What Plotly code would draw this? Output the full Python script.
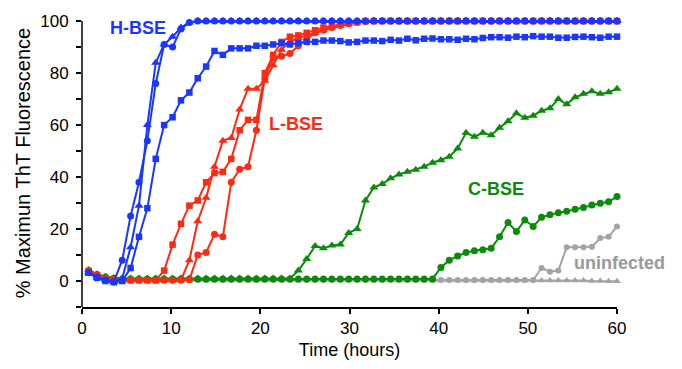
import plotly.graph_objects as go

# ---- data ----
times = [0.75, 1.69, 2.63, 3.57, 4.51, 5.45, 6.39, 7.33, 8.27, 9.21,
         10.16, 11.10, 12.04, 12.98, 13.92, 14.86, 15.80, 16.74, 17.68, 18.62,
         19.56, 20.50, 21.44, 22.38, 23.32, 24.26, 25.20, 26.14, 27.08, 28.02,
         28.97, 29.91, 30.85, 31.79, 32.73, 33.67, 34.61, 35.55, 36.49, 37.43,
         38.37, 39.31, 40.25, 41.19, 42.13, 43.07, 44.01, 44.95, 45.89, 46.83,
         47.78, 48.72, 49.66, 50.60, 51.54, 52.48, 53.42, 54.36, 55.30, 56.24,
         57.18, 58.12, 59.06, 60.00]

hbse_circle = [3.2, 1.5, 0.4, -0.3, 8, 25, 38, 54, 76, 91,
               90, 97, 99.5, 100, 100, 100, 100, 100, 100, 100,
               100, 100, 100, 100, 100, 100, 100, 100, 100, 100,
               100, 100, 100, 100, 100, 100, 100, 100, 100, 100,
               100, 100, 100, 100, 100, 100, 100, 100, 100, 100,
               100, 100, 100, 100, 100, 100, 100, 100, 100, 100,
               100, 100, 100, 100]
hbse_triangle = [3.0, 1.3, 0.3, -0.4, 1, 13, 29, 60, 84, 91,
                 94, 97.5, 99.5, 100, 100, 100, 100, 100, 100, 100,
                 100, 100, 100, 100, 100, 100, 100, 100, 100, 100,
                 100, 100, 100, 100, 100, 100, 100, 100, 100, 100,
                 100, 100, 100, 100, 100, 100, 100, 100, 100, 100,
                 100, 100, 100, 100, 100, 100, 100, 100, 100, 100,
                 100, 100, 100, 100]
hbse_square = [3.2, 1.2, 0, -0.5, 0, 5, 17, 28, 47, 60,
               63, 69.5, 72.5, 78, 82.5, 88.5, 87, 89.5, 89.5, 89.5,
               90.5, 90.5, 91, 91.5, 91, 91.5, 92, 92, 92.5, 92.5,
               92.3, 91.8, 92, 92.5, 92.5, 92.3, 92.8, 92.5, 93.2, 92.6,
               93.2, 93.3, 93, 93, 92.8, 93.2, 93, 93.5, 93.8, 93.8,
               93.6, 94, 93.8, 94.2, 94, 94, 93.6, 93.6, 93.9, 94,
               93.8, 93.6, 94, 94]

lbse_square = [3.8, 2.2, 1, 0.5, 0.3, 0.3, 0.3, 0.3, 0.3, 4,
               14, 22, 29, 31, 38, 41.5, 42, 47, 58, 62,
               62, 80, 87, 92, 94, 94.5, 95.5, 96.5, 97.5, 98,
               98.8, 99.2, 99.6, 100, 100, 100, 100, 100, 100, 100,
               100, 100, 100, 100, 100, 100, 100, 100, 100, 100,
               100, 100, 100, 100, 100, 100, 100, 100, 100, 100,
               100, 100, 100, 100]
lbse_triangle = [3.5, 2, 1, 0.5, 0.3, 0.3, 0.3, 0.3, 0.3, 0.3,
                 0.3, 0.3, 8, 23, 32, 44, 54, 55, 66, 74,
                 74, 77, 83, 89, 92, 93.5, 94.5, 95.5, 96.5, 97.5,
                 98.2, 99, 99.5, 100, 100, 100, 100, 100, 100, 100,
                 100, 100, 100, 100, 100, 100, 100, 100, 100, 100,
                 100, 100, 100, 100, 100, 100, 100, 100, 100, 100,
                 100, 100, 100, 100]
lbse_circle = [3.5, 2, 1, 0.5, 0.3, 0.3, 0.3, 0.3, 0.3, 0.3,
               0.3, 0.3, 0.5, 10, 11, 18, 17, 38, 43, 44,
               58, 78, 86, 86.5, 87.5, 90.5, 93, 95.5, 96.5, 97.5,
               98.3, 99, 99.5, 99.8, 100, 100, 100, 100, 100, 100,
               100, 100, 100, 100, 100, 100, 100, 100, 100, 100,
               100, 100, 100, 100, 100, 100, 100, 100, 100, 100,
               100, 100, 100, 100]

cbse_triangle = [4.2, 2.6, 1.6, 1.2, 1, 1, 1, 1, 1, 1,
                 1, 1, 1, 1, 1, 1, 1, 1, 1, 1,
                 1, 1, 1, 1, 1, 4, 8.5, 13.5, 12.6, 13.7,
                 14, 18.5, 20, 31, 36, 37.3, 39.5, 41, 42, 42.8,
                 44, 45.5, 46.5, 47.8, 51, 57, 55.5, 57, 56.1, 59,
                 61.5, 64.5, 62.8, 63.6, 65.5, 66.5, 70, 68, 70.7, 72,
                 73, 72, 72.6, 74]
cbse_circle = [4, 2.5, 1.5, 1.1, 0.8, 0.8, 0.8, 0.8, 0.8, 0.8,
               0.8, 0.8, 0.8, 0.8, 0.8, 0.8, 0.8, 0.8, 0.8, 0.8,
               0.8, 0.8, 0.8, 0.8, 0.8, 0.8, 0.8, 0.8, 0.8, 0.8,
               0.8, 0.8, 0.8, 0.8, 0.8, 0.8, 0.8, 0.8, 0.8, 0.8,
               0.8, 0.8, 5.2, 8, 9.6, 11, 11.6, 12, 12.6, 17,
               22.5, 19, 23.5, 21, 24.5, 25.5, 26.3, 26.8, 27.6, 28.3,
               29.2, 29.9, 30.5, 32.5]

uninf_circle = [3.5, 2, 1, 0.6, 0.4, 0.4, 0.4, 0.4, 0.4, 0.4,
                0.4, 0.4, 0.4, 0.4, 0.4, 0.4, 0.4, 0.4, 0.4, 0.4,
                0.4, 0.4, 0.4, 0.4, 0.4, 0.4, 0.4, 0.4, 0.4, 0.4,
                0.4, 0.4, 0.4, 0.4, 0.4, 0.4, 0.4, 0.4, 0.4, 0.4,
                0.4, 0.4, 0.4, 0.4, 0.4, 0.4, 0.4, 0.4, 0.4, 0.4,
                0.4, 0.4, 0.4, 0.4, 5, 3.6, 4, 13, 13, 13,
                13.2, 16.5, 17, 21]
uninf_triangle = [3.5, 2, 1, 0.6, 0.3, 0.3, 0.3, 0.3, 0.3, 0.3,
                  0.3, 0.3, 0.3, 0.3, 0.3, 0.3, 0.3, 0.3, 0.3, 0.3,
                  0.3, 0.3, 0.3, 0.3, 0.3, 0.3, 0.3, 0.3, 0.3, 0.3,
                  0.3, 0.3, 0.3, 0.3, 0.3, 0.3, 0.3, 0.3, 0.3, 0.3,
                  0.2, 0.2, 0.2, 0.2, 0.2, 0.2, 0.2, 0.2, 0.2, 0.2,
                  0.2, 0.2, 0.2, 0.2, 0.2, 0.2, 0.2, 0.2, 0.2, 0.2,
                  0, 0, -0.1, -0.1]

x_ticks = [0, 10, 20, 30, 40, 50, 60]
y_ticks = [-10, 0, 10, 20, 30, 40, 50, 60, 70, 80, 90, 100]
y_ticktext = ["", "0", "", "20", "", "40", "", "60", "", "80", "", "100"]

BLUE = "#1a36ff"
RED = "#ff2a14"
GREEN = "#0a8c0a"
GRAY = "#a3a3a3"
FONT = "Liberation Sans, Arial, sans-serif"

series = [
    (uninf_triangle, GRAY, "triangle-up", 7),
    (uninf_circle, GRAY, "circle", 6),
    (cbse_circle, GREEN, "circle", 7),
    (cbse_triangle, GREEN, "triangle-up", 8),
    (lbse_circle, RED, "circle", 7),
    (lbse_triangle, RED, "triangle-up", 8),
    (lbse_square, RED, "square", 6.5),
    (hbse_square, BLUE, "square", 6.5),
    (hbse_triangle, BLUE, "triangle-up", 8),
    (hbse_circle, BLUE, "circle", 7),
]

fig = go.Figure()
for ys, col, sym, sz in series:
    fig.add_trace(go.Scatter(
        x=times, y=ys, mode="lines+markers",
        line=dict(color=col, width=2),
        marker=dict(color=col, symbol=sym, size=sz, line=dict(width=0)),
        cliponaxis=False, showlegend=False, hoverinfo="skip"))

labels = [
    ("H-BSE", "x", 6.25, 97.2, BLUE),
    ("L-BSE", "x", 23.97, 60.3, RED),
    ("C-BSE", "x", 46.47, 35.5, GREEN),
    ("uninfected", "paper", 1.005, 6.9, "#999999"),
]
for txt, xr, x, y, col in labels:
    fig.add_annotation(x=x, y=y, xref=xr, yref="y", text="<b>%s</b>" % txt,
                       showarrow=False, font=dict(family=FONT, size=18, color=col),
                       xanchor="center", yanchor="middle")

fig.add_shape(type="line", xref="paper", yref="y", x0=0, x1=0, y0=-10, y1=100,
              line=dict(color="black", width=1.5), layer="above")

fig.update_layout(
    width=682, height=369,
    margin=dict(l=82, r=65, t=16, b=62),
    plot_bgcolor="white", paper_bgcolor="white",
    font=dict(family=FONT, color="black"),
    showlegend=False,
    xaxis=dict(range=[0, 60], tickvals=x_ticks, showline=True, linecolor="black",
               linewidth=1.5, ticks="outside", ticklen=5, tickwidth=1.5,
               tickcolor="black", tickfont=dict(size=17), showgrid=False,
               zeroline=False,
               title=dict(text="Time (hours)", font=dict(size=18), standoff=6)),
    yaxis=dict(range=[-10, 100.8], tickvals=y_ticks, ticktext=y_ticktext,
               showline=False, ticks="outside", ticklen=5, tickwidth=1.5,
               tickcolor="black", tickfont=dict(size=17), showgrid=False,
               zeroline=False, ticklabelstandoff=4,
               title=dict(text="% Maximun ThT Fluorescence", font=dict(size=20),
                          standoff=4)),
)

fig.write_html("out.html")
